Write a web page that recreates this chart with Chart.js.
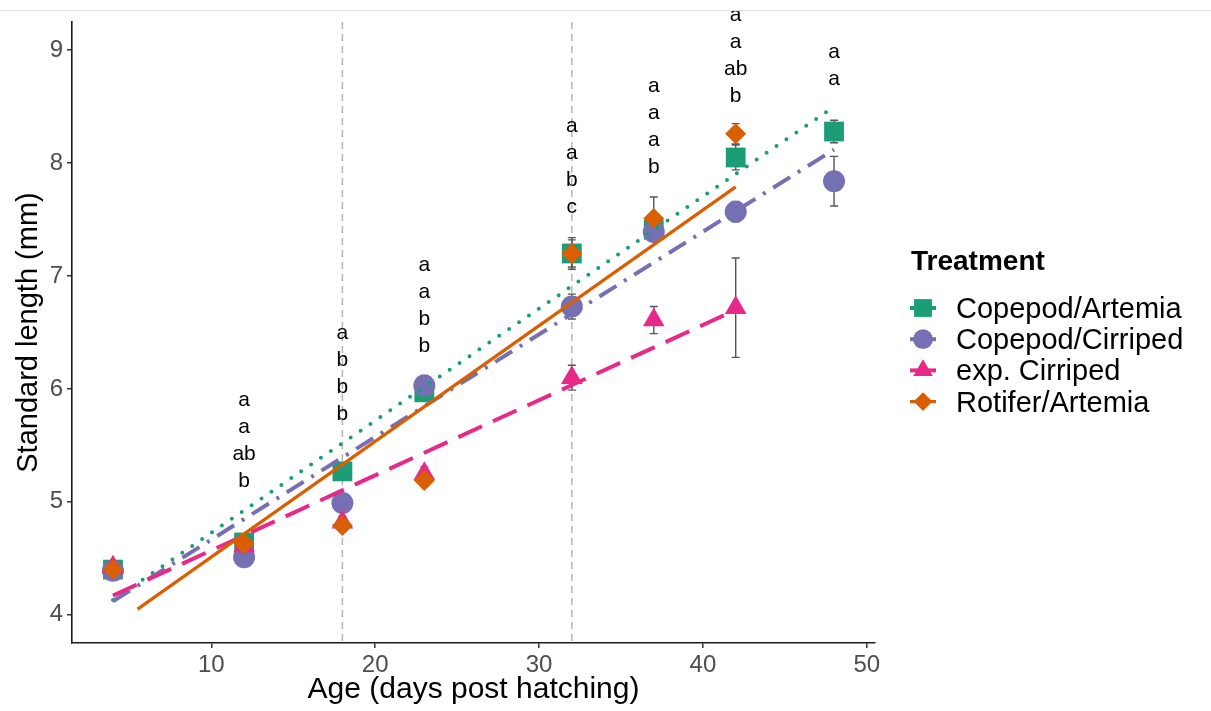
<!DOCTYPE html>
<html>
<head>
<meta charset="utf-8">
<script src="https://cdn.jsdelivr.net/npm/chart.js@4.4.0/dist/chart.umd.min.js"></script>
<style>
html,body{margin:0;padding:0;background:#fff;}
#wrap{position:relative;width:1211px;height:711px;}
#rule{position:absolute;left:0;top:10px;width:1211px;border-top:1px solid #e2e2e2;}
canvas{display:block;}
</style>
</head>
<body>
<div id="wrap"><div id="rule"></div><canvas id="growthChart" width="1211" height="711"></canvas></div>
<script>
// ============================================================
//  LARVAL GROWTH BY FEEDING TREATMENT
// ============================================================
const ages=[4,12,18,23,32,37,42,48];
const treatments=['Copepod/Artemia','Copepod/Cirriped','exp. Cirriped','Rotifer/Artemia'];

// mean standard length (mm) and standard error per sampling day
const copArtMean=[4.40,4.64,5.27,5.97,7.20,7.41,8.05,8.28];
const copArtSe  =[0.04,0.04,0.05,0.05,0.14,0.10,0.11,0.10];
const copCirMean=[4.39,4.51,4.99,6.03,6.73,7.39,7.57,7.84];
const copCirSe  =[0.04,0.04,0.05,0.09,0.11,0.08,0.09,0.22];
const expCirMean=[4.42,4.61,4.82,5.25,6.10,6.61,6.72,null];
const expCirSe  =[0.04,0.05,0.05,0.06,0.11,0.12,0.44,null];
const rotArtMean=[4.40,4.63,4.79,5.19,7.20,7.51,8.26,null];
const rotArtSe  =[0.04,0.04,0.05,0.05,0.12,0.19,0.09,null];

// linear fits, start and end of each fitted range
const copArtFit=[{x:4,y:4.13},{x:48,y:8.50}];
const copCirFit=[{x:4,y:4.12},{x:48,y:8.12}];
const expCirFit=[{x:4,y:4.17},{x:42,y:6.70}];
const rotArtFit=[{x:5.5,y:4.05},{x:42,y:7.79}];

// significance letters per day, stacked upward from the given length
const sigAges=[12,18,23,32,37,42,48];
const sigLetters=[['a','a','ab','b'],['a','b','b','b'],['a','a','b','b'],['a','a','b','c'],['a','a','a','b'],['a','a','ab','b'],['a','a']];
const sigBase=[5.18,5.78,6.38,7.61,7.96,8.59,8.74];

const guideAges=[18,32];
const ageTicks=[10,20,30,40,50];
const lengthTicks=[4,5,6,7,8,9];

const means=[copArtMean,copCirMean,expCirMean,rotArtMean];
const ses=[copArtSe,copCirSe,expCirSe,rotArtSe];
const fits=[copArtFit,copCirFit,expCirFit,rotArtFit];

// look
const FONT='"Liberation Sans", Arial, Helvetica, sans-serif';
const palette=['#1B9E77','#7570B3','#E7298A','#D95F02'];
const shapes=['rect','circle','triangle','rectRot'];
const shapeRadius=[14,11,12.5,10.5];
const fitDash=[[0,12],[20,9,3,9],[26,12],[]];
const fitCap=['round','butt','butt','butt'];
const fitWidth=[4,4,4,3.2];

const pointSets=treatments.map((t,i)=>({
  type:'scatter',label:t,
  data:ages.map((a,k)=>means[i][k]==null?null:{x:a,y:means[i][k]}).filter(Boolean),
  pointStyle:shapes[i],pointRadius:shapeRadius[i],pointHoverRadius:shapeRadius[i],
  backgroundColor:palette[i],borderColor:palette[i],borderWidth:0,
  order:8-i,
}));
const fitSets=treatments.map((t,i)=>({
  type:'line',label:t+' fit',data:fits[i],
  borderColor:palette[i],backgroundColor:palette[i],borderWidth:fitWidth[i],
  borderDash:fitDash[i],borderCapStyle:fitCap[i],
  pointRadius:0,pointHoverRadius:0,tension:0,fill:false,
  order:4-i,
}));

// dashed guides + error bars under the markers
const underlay={id:'underlay',beforeDatasetsDraw(chart){
  const {ctx,chartArea,scales:{x,y}}=chart;
  ctx.save();
  ctx.strokeStyle='#b4b4b4';ctx.lineWidth=1.5;ctx.setLineDash([7,5]);
  guideAges.forEach(a=>{
    const px=x.getPixelForValue(a);
    ctx.beginPath();ctx.moveTo(px,chartArea.top);ctx.lineTo(px,chartArea.bottom);ctx.stroke();
  });
  ctx.setLineDash([]);ctx.strokeStyle='#555';ctx.lineWidth=1.4;
  means.forEach((m,i)=>m.forEach((v,k)=>{
    if(v==null) return;
    const px=x.getPixelForValue(ages[k]);
    const top=y.getPixelForValue(v+ses[i][k]),bot=y.getPixelForValue(v-ses[i][k]);
    ctx.beginPath();
    ctx.moveTo(px,top);ctx.lineTo(px,bot);
    ctx.moveTo(px-4,top);ctx.lineTo(px+4,top);
    ctx.moveTo(px-4,bot);ctx.lineTo(px+4,bot);
    ctx.stroke();
  }));
  ctx.restore();
}};

// letters above each sampling day
const letters={id:'letters',afterDatasetsDraw(chart){
  const {ctx,scales:{x,y}}=chart;
  ctx.save();
  ctx.font='21px '+FONT;ctx.fillStyle='#000';ctx.textAlign='center';ctx.textBaseline='middle';
  sigAges.forEach((a,j)=>{
    const px=x.getPixelForValue(a),base=y.getPixelForValue(sigBase[j]);
    const n=sigLetters[j].length;
    sigLetters[j].forEach((s,k)=>ctx.fillText(s,px,base-(n-1-k)*27));
  });
  ctx.restore();
}};

// legend with line + shape keys
const keyLegend={id:'keyLegend',afterDraw(chart){
  const ctx=chart.ctx;
  ctx.save();
  ctx.textAlign='left';ctx.textBaseline='alphabetic';ctx.fillStyle='#000';
  ctx.font='bold 28px '+FONT;
  ctx.fillText('Treatment',911,270);
  ctx.font='29px '+FONT;
  treatments.forEach((t,i)=>{
    const cx=923,cy=308+i*31.2;
    ctx.strokeStyle=palette[i];ctx.lineWidth=fitWidth[i];ctx.setLineDash([]);
    ctx.beginPath();ctx.moveTo(cx-13,cy);ctx.lineTo(cx+13,cy);ctx.stroke();
    ctx.fillStyle=palette[i];
    Chart.helpers.drawPoint(ctx,{pointStyle:shapes[i],radius:shapeRadius[i]*0.9,borderWidth:0,rotation:0},cx,cy);
    ctx.fillStyle='#000';
    ctx.fillText(t,956,cy+10);
  });
  ctx.restore();
}};

const axisText={family:FONT,size:24};
new Chart(document.getElementById('growthChart'),{
  type:'scatter',
  data:{datasets:[...pointSets,...fitSets]},
  options:{
    responsive:false,animation:false,
    layout:{padding:{top:22,right:336,bottom:0,left:0}},
    events:[],
    plugins:{legend:{display:false},tooltip:{enabled:false}},
    scales:{
      x:{
        type:'linear',min:1.5,max:50.5,
        afterBuildTicks:s=>{s.ticks=ageTicks.map(v=>({value:v}));},
        afterFit:s=>{s.height=68;},
        ticks:{color:'#4d4d4d',font:axisText,padding:3,maxRotation:0},
        grid:{drawOnChartArea:false,tickLength:5,color:'#333',lineWidth:1.5},
        border:{color:'#1a1a1a',width:1.6},
        title:{display:true,text:'Age (days post hatching)',color:'#000',font:{family:FONT,size:30},padding:{top:0,bottom:3}},
      },
      y:{
        type:'linear',min:3.75,max:9.25,
        afterBuildTicks:s=>{s.ticks=lengthTicks.map(v=>({value:v}));},
        afterFit:s=>{s.width=72;},
        ticks:{color:'#4d4d4d',font:axisText,padding:4},
        grid:{drawOnChartArea:false,tickLength:5,color:'#333',lineWidth:1.5},
        border:{color:'#1a1a1a',width:1.6},
        title:{display:true,text:'Standard length (mm)',color:'#000',font:{family:FONT,size:29},padding:{top:12,bottom:0}},
      }
    }
  },
  plugins:[underlay,letters,keyLegend]
});
</script>
</body>
</html>
